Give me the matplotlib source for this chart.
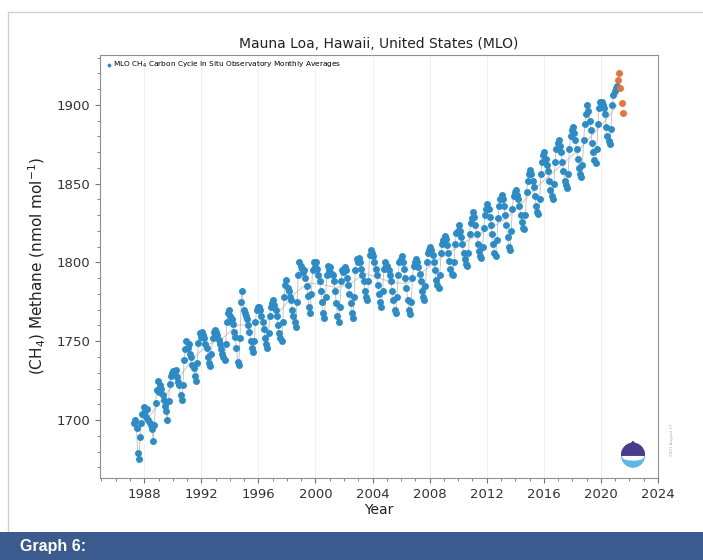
import matplotlib.pyplot as plt
import matplotlib.patches as mpatches
from matplotlib.ticker import MultipleLocator
import numpy as np

# monthly in situ averages, starting April 1987
start_year, start_month = 1987, 4
ch4_monthly = [
    1698, 1700, 1695, 1679, 1675, 1689, 1698, 1704, 1708,                    # 1987
    1706, 1702, 1707, 1700, 1698, 1697, 1694, 1687, 1697, 1711, 1719, 1725,  # 1988
    1718, 1722, 1720, 1716, 1713, 1709, 1706, 1700, 1712, 1723, 1728, 1730,  # 1989
    1731, 1729, 1732, 1727, 1724, 1722, 1716, 1713, 1722, 1738, 1745, 1750,  # 1990
    1746, 1748, 1742, 1740, 1735, 1733, 1728, 1725, 1736, 1749, 1755, 1753,  # 1991
    1756, 1754, 1752, 1748, 1746, 1740, 1736, 1734, 1742, 1752, 1756, 1757,  # 1992
    1756, 1754, 1751, 1748, 1745, 1742, 1740, 1738, 1748, 1762, 1768, 1770,  # 1993
    1766, 1764, 1761, 1756, 1753, 1746, 1737, 1735, 1752, 1775, 1782, 1770,  # 1994
    1768, 1766, 1764, 1760, 1756, 1750, 1746, 1743, 1750, 1762, 1770, 1772,  # 1995
    1772, 1770, 1766, 1762, 1758, 1752, 1748, 1746, 1755, 1766, 1772, 1774,  # 1996
    1776, 1773, 1770, 1766, 1760, 1755, 1752, 1750, 1762, 1778, 1786, 1789,  # 1997
    1784, 1782, 1778, 1776, 1770, 1766, 1762, 1759, 1775, 1792, 1800, 1798,  # 1998
    1796, 1794, 1795, 1790, 1785, 1779, 1772, 1768, 1780, 1795, 1800, 1797,  # 1999
    1800, 1796, 1792, 1788, 1782, 1775, 1768, 1765, 1778, 1792, 1798, 1795,  # 2000
    1797, 1793, 1792, 1788, 1782, 1774, 1766, 1762, 1772, 1788, 1795, 1794,  # 2001
    1797, 1795, 1790, 1786, 1780, 1774, 1768, 1765, 1778, 1795, 1802, 1800,  # 2002
    1803, 1800, 1796, 1792, 1788, 1782, 1778, 1776, 1788, 1805, 1808, 1806,  # 2003
    1804, 1800, 1796, 1792, 1786, 1780, 1775, 1772, 1782, 1796, 1800, 1798,  # 2004
    1798, 1795, 1792, 1788, 1782, 1776, 1770, 1768, 1778, 1792, 1800, 1802,  # 2005
    1804, 1800, 1796, 1790, 1784, 1776, 1770, 1767, 1775, 1790, 1798, 1800,  # 2006
    1802, 1800, 1797, 1793, 1788, 1782, 1778, 1776, 1785, 1800, 1806, 1808,  # 2007
    1810, 1808, 1805, 1800, 1795, 1789, 1786, 1784, 1792, 1806, 1812, 1814,  # 2008
    1817, 1815, 1811, 1806, 1801, 1796, 1793, 1792, 1800, 1812, 1819, 1820,  # 2009
    1824, 1820, 1816, 1812, 1806, 1802, 1799, 1798, 1806, 1818, 1825, 1828,  # 2010
    1832, 1829, 1824, 1818, 1812, 1807, 1804, 1803, 1810, 1822, 1830, 1834,  # 2011
    1837, 1834, 1829, 1824, 1818, 1812, 1806, 1804, 1814, 1828, 1836, 1840,  # 2012
    1843, 1840, 1836, 1830, 1824, 1816, 1810, 1808, 1820, 1834, 1842, 1845,  # 2013
    1846, 1843, 1840, 1836, 1830, 1826, 1822, 1821, 1830, 1845, 1852, 1856,  # 2014
    1859, 1856, 1852, 1848, 1842, 1836, 1832, 1831, 1840, 1856, 1864, 1868,  # 2015
    1870, 1866, 1862, 1858, 1852, 1846, 1842, 1840, 1850, 1864, 1872, 1876,  # 2016
    1878, 1874, 1870, 1864, 1858, 1852, 1849, 1847, 1856, 1872, 1880, 1884,  # 2017
    1886, 1882, 1878, 1872, 1866, 1860, 1856, 1854, 1862, 1878, 1888, 1894,  # 2018
    1900, 1896, 1890, 1884, 1876, 1870, 1865, 1863, 1872, 1888, 1898, 1902,  # 2019
    1902, 1900, 1898, 1894, 1886, 1880, 1877, 1875, 1885, 1900, 1906, 1909,  # 2020
    1911, 1912,                                                              # 2021
]
# preliminary 2021 values, March to July
prelim_years = [2021.21, 2021.29, 2021.37, 2021.46, 2021.54]
prelim_ch4 = [1916, 1920, 1911, 1901, 1895]

# deseasonalized trend, mid-year
trend_years = [1987.5, 1988.5, 1989.5, 1990.5, 1991.5, 1992.5, 1993.5, 1994.5, 1995.5,
               1996.5, 1997.5, 1998.5, 1999.5, 2000.5, 2001.5, 2002.5, 2003.5, 2004.5,
               2005.5, 2006.5, 2007.5, 2008.5, 2009.5, 2010.5, 2011.5, 2012.5, 2013.5,
               2014.5, 2015.5, 2016.5, 2017.5, 2018.5, 2019.5, 2020.5, 2021.1]
trend_ch4 = [1694, 1704, 1716, 1728, 1740, 1748, 1752, 1760, 1761, 1763, 1769, 1780,
             1787, 1786, 1784, 1787, 1793, 1790, 1787, 1787, 1794, 1801, 1807, 1813,
             1818, 1823, 1829, 1838, 1848, 1856, 1864, 1872, 1882, 1892, 1900]

n = len(ch4_monthly)
t = start_year + (start_month - 1 + np.arange(n) + 0.5) / 12.0

fig = plt.figure(figsize=(7.03, 5.6), dpi=100)

# page frame and caption band
fig.add_artist(mpatches.Rectangle((8/703, 27/560), 1.0, 521/560, transform=fig.transFigure,
                                  fill=False, edgecolor='#d0d0d0', linewidth=1.0))
fig.add_artist(mpatches.Rectangle((0, 0), 1.0, 28/560, transform=fig.transFigure,
                                  facecolor='#3b5a8e', edgecolor='none'))
fig.text(20/703, 13/560, 'Graph 6:', color='white', fontsize=11.5, fontweight='bold',
         family=['Liberation Sans Narrow', 'Liberation Sans'], va='center', ha='left')

ax = fig.add_axes([100/703, 1 - 478/560, 558/703, 423/560])
ax.plot(trend_years, trend_ch4, '-', color='#d8cfc4', linewidth=0.9, zorder=1)
ax.plot(t, ch4_monthly, '-', color='#bdbdbd', linewidth=0.6, zorder=2)
ax.plot(t, ch4_monthly, 'o', color='#2b8cc8', markersize=5, markeredgewidth=0, zorder=3,
        label='MLO CH$_4$ Carbon Cycle In Situ Observatory Monthly Averages')
ax.plot(prelim_years, prelim_ch4, 'o', color='#e9733a', markersize=5, markeredgewidth=0,
        zorder=3)

ax.set_xlim(1984.9, 2024)
ax.set_ylim(1663.2, 1931.7)
ax.xaxis.set_major_locator(MultipleLocator(4))
ax.xaxis.set_minor_locator(MultipleLocator(1))
ax.yaxis.set_major_locator(MultipleLocator(50))
ax.yaxis.set_minor_locator(MultipleLocator(10))
ax.grid(axis='x', which='major', color='#f0f0f0', linewidth=0.8)
ax.set_axisbelow(True)
for s in ax.spines.values():
    s.set_color('#909090')
ax.tick_params(which='both', colors='#707070', labelcolor='#333333', labelsize=9.5)
ax.tick_params(which='minor', length=2)

ax.set_title('Mauna Loa, Hawaii, United States (MLO)', fontsize=10, color='#222222', pad=5)
ax.set_xlabel('Year', fontsize=10, color='#222222', labelpad=2)
ax.set_ylabel('(CH$_4$) Methane (nmol mol$^{-1}$)', fontsize=11, color='#222222', labelpad=6)

leg = ax.legend(loc='upper left', fontsize=5.3, frameon=False, handletextpad=0.1,
                borderaxespad=0.3, markerscale=0.55, handlelength=1.0)

# NOAA emblem
logo = fig.add_axes([621/703, 1 - 469/560, 24/703, 30/560])
logo.set_xlim(-1, 1)
logo.set_ylim(-1.2, 1.2)
logo.axis('off')
logo.add_patch(mpatches.Circle((0, -0.1), 0.95, color='#5bb8e0'))
logo.add_patch(mpatches.Wedge((0, -0.1), 0.95, 0, 180, color='#4a3c8c'))
logo.add_patch(mpatches.Ellipse((0, -0.25), 1.7, 0.45, color='white'))
logo.add_patch(mpatches.Polygon([(-0.95, -0.1), (0, 1.0), (0.95, -0.1)], color='#4a3c8c'))

fig.text(672/703, 1 - 440/560, '2021 August 17', rotation=90, fontsize=3, color='#aaaaaa',
         ha='center', va='center')

fig.savefig('out.png', dpi=100)
